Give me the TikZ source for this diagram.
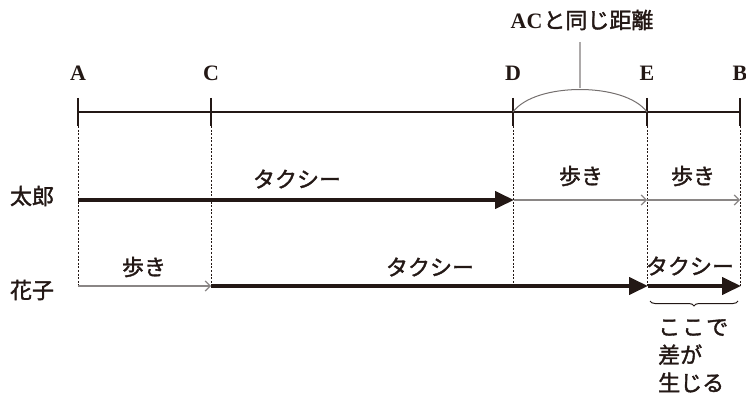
\documentclass[tikz,border=0pt]{standalone}
\usepackage{fontspec}
\setmainfont{Liberation Serif}
\newfontfamily\jp[FakeBold=1.6]{Noto Sans CJK JP}
\usetikzlibrary{arrows.meta,decorations.pathreplacing}
\definecolor{ink}{HTML}{231815}
\definecolor{walkgray}{HTML}{8A8685}
\tikzset{
  every node/.style={inner sep=0pt, text=ink},
  ptlabel/.style={font=\bfseries\fontsize{22}{22}\selectfont},
  jlabel/.style={font=\jp\fontsize{22}{22}\selectfont},
  mainline/.style={ink, line width=2.6pt},
  tickmark/.style={ink, line width=2.4pt},
  guide/.style={ink, line width=1pt, dash pattern=on 2pt off 1.6pt},
  taxi/.style={ink, line width=4pt, -{Triangle[length=19pt,width=17pt]}},
  walk/.style={walkgray, line width=1.6pt, -{Straight Barb[length=5pt,width=10pt,line width=1.2pt]}},
}
\begin{document}
\begin{tikzpicture}[x=1pt,y=-1pt]
\useasboundingbox (0,0) rectangle (746,403);

% points on the scale
\foreach \n/\x in {A/78,C/211,D/513,E/647,B/740}{
  \coordinate (\n-top) at (\x,98);
  \coordinate (\n-mid) at (\x,112);
  \coordinate (\n-bot) at (\x,126);
  \coordinate (\n-low) at (\x,286);
  \node[ptlabel] (\n-lab) at (\x,73) {\n};
}

% dotted guides down to Hanako's row
\foreach \n in {A,C,D,E,B}{
  \draw[guide] (\n-bot) -- (\n-low);
}

% scale line with ticks
\draw[mainline] (A-mid) -- (B-mid);
\foreach \n in {A,C,D,E,B}{
  \draw[tickmark] (\n-top) -- (\n-bot);
}

% arc between D and E with its caption
\coordinate (arctop) at (580,88);
\draw[walkgray!80!ink, line width=1pt] (D-mid) .. controls (535,82) and (625,82) .. (E-mid);
\node[jlabel] (same) at (582,20) {{\rmfamily\bfseries AC}\hspace{1pt}と同じ距離};
\coordinate (samebot) at (580,42);
\draw[walkgray!70, line width=1.4pt] (samebot) -- (arctop);

% Taro
\node[jlabel] (taro) at (32,196) {太郎};
\coordinate (T0) at (78,200);
\coordinate (TD) at (514,200);
\coordinate (TE) at (647,200);
\coordinate (TB) at (740,200);
\draw[taxi] (T0) -- (TD);
\draw[walk] (TD) -- (TE);
\draw[walk] (TE) -- (TB);
\node[jlabel] (t1) at (297,179) {タクシー};
\node[jlabel] (t2) at (581,176) {歩き};
\node[jlabel] (t3) at (693,176) {歩き};

% Hanako
\node[jlabel] (hana) at (32,290) {花子};
\coordinate (H0) at (78,286);
\coordinate (HC) at (211,286);
\coordinate (HE) at (648,286);
\coordinate (HB) at (741,286);
\draw[walk] (H0) -- (HC);
\draw[taxi] (HC) -- (HE);
\draw[taxi] (HE) -- (HB);
\node[jlabel] (h1) at (144,267) {歩き};
\node[jlabel] (h2) at (430,267) {タクシー};
\node[jlabel] (h3) at (690,266) {タクシー};

% brace and note
\coordinate (brL) at (650,301);
\coordinate (brR) at (738,301);
\draw[ink, line width=1pt, decorate, decoration={brace, mirror, amplitude=5pt}] (brL) -- (brR);
\node[jlabel, anchor=north west, align=left, font=\jp\fontsize{22}{28}\selectfont] (note) at (658,319) {こ\hspace{2pt}こ\hspace{2pt}で\\差が\\生じる};
\end{tikzpicture}
\end{document}
